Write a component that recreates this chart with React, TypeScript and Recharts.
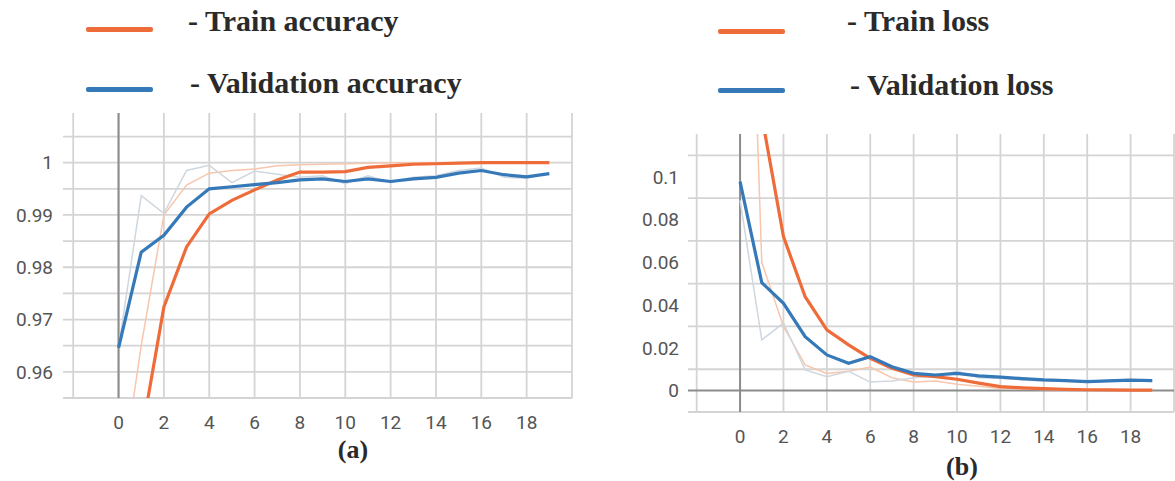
import { CartesianGrid, Line, LineChart, ReferenceLine, XAxis, YAxis } from "recharts";

const epochs = [0, 1, 2, 3, 4, 5, 6, 7, 8, 9, 10, 11, 12, 13, 14, 15, 16, 17, 18, 19];
const xTicks = [0, 2, 4, 6, 8, 10, 12, 14, 16, 18];
const xGrid = [-2, 0, 2, 4, 6, 8, 10, 12, 14, 16, 18, 20];

// (a) accuracy
const trainAcc = [0.935, 0.9476, 0.9724, 0.9839, 0.9902, 0.9928, 0.9948, 0.9967, 0.9982, 0.9982, 0.9983, 0.9991, 0.9994, 0.9997, 0.9998, 0.9999, 1.0, 1.0, 1.0, 1.0];
const valAcc = [0.9646, 0.9829, 0.9861, 0.9915, 0.995, 0.9954, 0.9958, 0.9962, 0.9967, 0.9969, 0.9964, 0.9969, 0.9964, 0.9969, 0.9972, 0.998, 0.9985, 0.9977, 0.9973, 0.9979];
const trainAccRaw = [0.9356, 0.965, 0.99, 0.9957, 0.998, 0.9985, 0.9988, 0.9994, 0.9996, 0.9997, 0.9998, 0.9999, 1.0, 1.0, 1.0, 1.0, 1.0, 1.0, 1.0, 1.0];
const valAccRaw = [0.9646, 0.9937, 0.9903, 0.9985, 0.9995, 0.9962, 0.9984, 0.9978, 0.9972, 0.9975, 0.996, 0.9975, 0.9962, 0.9972, 0.9975, 0.9985, 0.999, 0.9972, 0.997, 0.998];
const accTicks = [0.96, 0.97, 0.98, 0.99, 1];
const accGrid = [0.955, 0.96, 0.965, 0.97, 0.975, 0.98, 0.985, 0.99, 0.995, 1, 1.005];

// (b) loss
const trainLoss = [0.26, 0.1285, 0.072, 0.0439, 0.0284, 0.0214, 0.0151, 0.0105, 0.0073, 0.0065, 0.0053, 0.0035, 0.0019, 0.0013, 0.0009, 0.0006, 0.0004, 0.0003, 0.0002, 0.0002];
const valLoss = [0.0977, 0.0505, 0.0408, 0.0252, 0.0167, 0.0128, 0.0159, 0.0112, 0.0081, 0.0073, 0.0081, 0.0069, 0.0063, 0.0056, 0.005, 0.0047, 0.0042, 0.0046, 0.0049, 0.0047];
const trainLossRaw = [0.36, 0.06, 0.03, 0.012, 0.008, 0.009, 0.011, 0.006, 0.004, 0.0045, 0.003, 0.002, 0.001, 0.0008, 0.0005, 0.0003, 0.0002, 0.0002, 0.0001, 0.0001];
const valLossRaw = [0.089, 0.0237, 0.0316, 0.0097, 0.0065, 0.009, 0.004, 0.0045, 0.006, 0.0068, 0.009, 0.006, 0.0058, 0.005, 0.0045, 0.0045, 0.0038, 0.005, 0.0052, 0.0045];
const lossTicks = [0, 0.02, 0.04, 0.06, 0.08, 0.1];
const lossGrid = [-0.01, 0, 0.01, 0.02, 0.03, 0.04, 0.05, 0.06, 0.07, 0.08, 0.09, 0.1, 0.11];

const ORANGE = "#ee6c3a";
const BLUE = "#3579b8";
const GRID = "#d4d4d4";
const AXIS = "#8c8c8c";
const tickStyle = { fontSize: 19, fill: "#555", fontFamily: "Roboto, 'Liberation Sans', sans-serif" };
const serif = "'Liberation Serif', 'DejaVu Serif', serif";

const accData = epochs.map((e, i) => ({
  epoch: e,
  train: trainAcc[i],
  val: valAcc[i],
  trainRaw: trainAccRaw[i],
  valRaw: valAccRaw[i],
}));

const lossData = epochs.map((e, i) => ({
  epoch: e,
  train: trainLoss[i],
  val: valLoss[i],
  trainRaw: trainLossRaw[i],
  valRaw: valLossRaw[i],
}));

function LegendItem({ x, y, color, label, textX, textY }: { x: number; y: number; color: string; label: string; textX: number; textY: number }) {
  return (
    <>
      <div style={{ position: "absolute", left: x, top: y - 2.5, width: 67, height: 5, background: color, borderRadius: 2 }} />
      <div
        style={{
          position: "absolute",
          left: textX,
          top: textY - 19,
          fontFamily: serif,
          fontWeight: "bold",
          fontSize: 30,
          color: "#2a2a2a",
          whiteSpace: "nowrap",
          lineHeight: "36px",
        }}
      >
        {label}
      </div>
    </>
  );
}

function lines() {
  return [
    <Line key="tr" dataKey="trainRaw" type="linear" stroke="#f7c6ad" strokeWidth={1.5} dot={false} isAnimationActive={false} />,
    <Line key="vr" dataKey="valRaw" type="linear" stroke="#cfd7df" strokeWidth={1.5} dot={false} isAnimationActive={false} />,
    <Line key="t" dataKey="train" type="linear" stroke={ORANGE} strokeWidth={3.2} dot={false} isAnimationActive={false} />,
    <Line key="v" dataKey="val" type="linear" stroke={BLUE} strokeWidth={3.2} dot={false} isAnimationActive={false} />,
  ];
}

export default function App() {
  return (
    <div style={{ position: "absolute", left: 0, top: 0, width: 1175, height: 481, background: "#fff", overflow: "hidden" }}>
      <LegendItem x={86} y={29} color={ORANGE} label="- Train accuracy" textX={188} textY={22} />
      <LegendItem x={86} y={89} color={BLUE} label="- Validation accuracy" textX={190} textY={84} />
      <LegendItem x={718} y={31} color={ORANGE} label="- Train loss" textX={847} textY={22} />
      <LegendItem x={718} y={90} color={BLUE} label="- Validation loss" textX={850} textY={86} />

      <div style={{ position: "absolute", left: 0, top: 0 }}>
        <LineChart width={580} height={481} data={accData} margin={{ top: 113, right: 8, bottom: 53, left: 0 }}>
          <CartesianGrid stroke={GRID} strokeWidth={1.8} horizontalValues={accGrid} verticalValues={xGrid} />
          <XAxis
            dataKey="epoch"
            type="number"
            domain={[-2.45, 20]}
            ticks={xTicks}
            axisLine={false}
            tickLine={false}
            tickMargin={12}
            height={30}
            tick={tickStyle}
            allowDataOverflow
          />
          <YAxis
            type="number"
            domain={[0.955, 1.0095]}
            ticks={accTicks}
            axisLine={false}
            tickLine={false}
            tickMargin={4}
            width={63}
            tick={tickStyle}
            allowDataOverflow
          />
          <ReferenceLine x={0} stroke={AXIS} strokeWidth={2} />
          {lines()}
        </LineChart>
      </div>

      <div style={{ position: "absolute", left: 588, top: 0 }}>
        <LineChart width={587} height={481} data={lossData} margin={{ top: 134, right: 1, bottom: 39, left: 0 }}>
          <CartesianGrid stroke={GRID} strokeWidth={1.8} horizontalValues={lossGrid} verticalValues={xGrid} />
          <XAxis
            dataKey="epoch"
            type="number"
            domain={[-2.4, 20]}
            ticks={xTicks}
            axisLine={false}
            tickLine={false}
            tickMargin={12}
            height={30}
            tick={tickStyle}
            allowDataOverflow
          />
          <YAxis
            type="number"
            domain={[-0.01, 0.12]}
            ticks={lossTicks}
            axisLine={false}
            tickLine={false}
            tickMargin={3}
            width={100}
            tick={tickStyle}
            allowDataOverflow
          />
          <ReferenceLine x={0} stroke={AXIS} strokeWidth={2} />
          <ReferenceLine y={0} stroke={AXIS} strokeWidth={2} />
          {lines()}
        </LineChart>
      </div>

      <div style={{ position: "absolute", left: 353, top: 450, transform: "translate(-50%, -50%)", fontFamily: serif, fontWeight: "bold", fontSize: 26, color: "#2a2a2a" }}>
        (a)
      </div>
      <div style={{ position: "absolute", left: 962, top: 467, transform: "translate(-50%, -50%)", fontFamily: serif, fontWeight: "bold", fontSize: 26, color: "#2a2a2a" }}>
        (b)
      </div>
    </div>
  );
}
